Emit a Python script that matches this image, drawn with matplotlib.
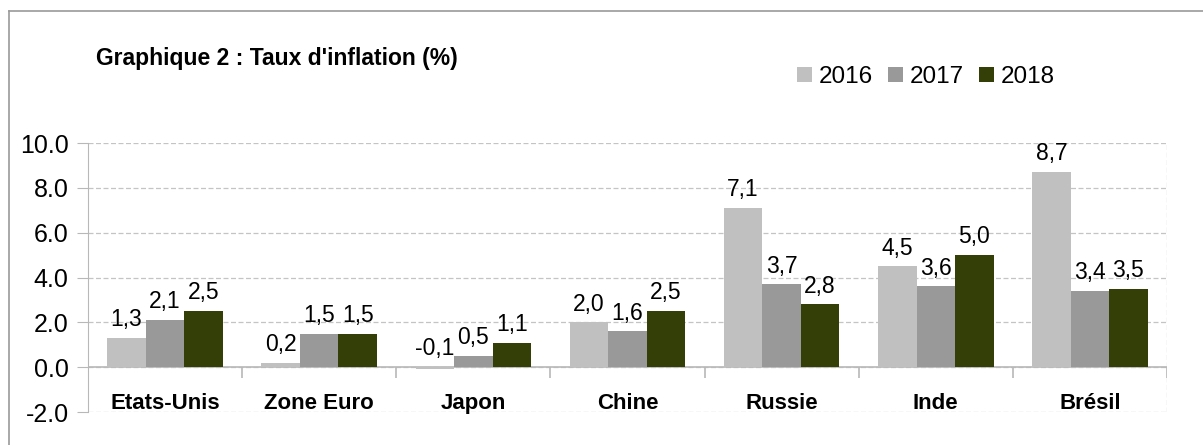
import matplotlib
matplotlib.use("Agg")
import matplotlib.pyplot as plt
import numpy as np
from matplotlib.lines import Line2D

plt.rcParams['font.family'] = ['Liberation Sans', 'DejaVu Sans']

categories = ["Etats-Unis", "Zone Euro", "Japon", "Chine", "Russie", "Inde", "Brésil"]
years = ["2016", "2017", "2018"]
v2016 = [1.3, 0.2, -0.1, 2.0, 7.1, 4.5, 8.7]
v2017 = [2.1, 1.5, 0.5, 1.6, 3.7, 3.6, 3.4]
v2018 = [2.5, 1.5, 1.1, 2.5, 2.8, 5.0, 3.5]
colors = ["#c0c0c0", "#999999", "#333f07"]

W, H = 1203, 445
fig = plt.figure(figsize=(W / 100, H / 100), dpi=100)

# outer frame (top and left edges visible)
fig.add_artist(Line2D([9 / W, 9 / W], [0, 1 - 11 / H], color="#9a9a9a", lw=1.2))
fig.add_artist(Line2D([9 / W, 1], [1 - 11 / H, 1 - 11 / H], color="#9a9a9a", lw=1.2))

ax = fig.add_axes([88 / W, 33 / H, 1079 / W, 269 / H])

x = np.arange(len(categories))
bw = 0.25
series = [v2016, v2017, v2018]
for i, (vals, c, yr) in enumerate(zip(series, colors, years)):
    pos = x + (i - 1) * bw
    ax.bar(pos, vals, width=bw, color=c, label=yr, zorder=3)
    for p, v in zip(pos, vals):
        ax.text(p, max(v, 0) + 0.3, f"{v:.1f}".replace(".", ","),
                ha="center", va="bottom", fontsize=16.5, zorder=4)

ax.set_xlim(-0.5, len(categories) - 0.5)
ax.set_ylim(-2, 10)
ax.set_yticks(np.arange(-2, 10.1, 2))
ax.set_yticklabels([f"{t:.1f}" for t in np.arange(-2, 10.1, 2)], fontsize=18)
ax.set_xticks([])
ax.tick_params(axis="y", length=8, color="#b8b8b8", pad=6)

for s in ["top", "right", "bottom"]:
    ax.spines[s].set_visible(False)
ax.spines["left"].set_color("#b8b8b8")

ax.grid(axis="y", color="#c4c4c4", linestyle=(0, (4, 2)), lw=0.9, zorder=0)
ax.axvline(len(categories) - 0.5, color="#c4c4c4", linestyle=(0, (4, 2)), lw=0.9, zorder=0)
ax.axhline(0, color="#b8b8b8", lw=1.2, zorder=2)
ax.vlines(np.arange(len(categories) + 1) - 0.5, -0.5, 0, color="#b8b8b8", lw=1.2, zorder=2)

for xi, cat in zip(x, categories):
    ax.text(xi, -1.6, cat, ha="center", va="center", fontsize=16, fontweight="bold")

fig.text(96 / W, 1 - 59 / H, "Graphique 2 : Taux d'inflation (%)", fontsize=16.5,
         fontweight="bold", ha="left", va="center")

fig.legend(loc="center", bbox_to_anchor=(926 / W, 1 - 77 / H), ncol=3, frameon=False,
           fontsize=17.5, handlelength=0.62, handleheight=0.62, handletextpad=0.3,
           columnspacing=0.6)

fig.savefig("out.png", dpi=100)
